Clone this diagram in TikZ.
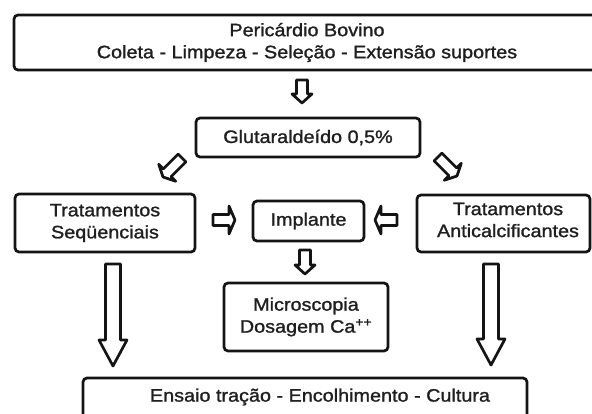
\documentclass[tikz,border=0pt]{standalone}
\usepackage{fontspec}
\setmainfont{Liberation Sans}[FakeStretch=1.1,FakeBold=1.3]
\usetikzlibrary{calc}
\newcommand\mainfs{\fontsize{18}{22}\selectfont}
\newcommand\blockarrow[5]{%
  \path ($(#2)!#5!(#1)$) coordinate (bb);
  \draw[barr] ($(#1)!#3!90:(#2)$) -- ($(bb)!#3!90:(#2)$) -- ($(bb)!#4!90:(#2)$) -- (#2)
    -- ($(bb)!#4!-90:(#2)$) -- ($(bb)!#3!-90:(#2)$) -- ($(#1)!#3!-90:(#2)$) -- cycle;}
\begin{document}
\begin{tikzpicture}[x=1pt,y=-1pt,
  box/.style={draw=black!92, line width=2.7pt, rounded corners=4pt, inner sep=0pt, align=center, font=\mainfs, text=black!88},
  lbl/.style={inner sep=0pt, align=center, font=\mainfs, text=black!88},
  barr/.style={draw=black!92, line width=2.7pt, line join=round, fill=white}]
\useasboundingbox[fill=white] (0,0) rectangle (592,414);
% boxes
\node[box, minimum width=586pt, minimum height=55pt] (top) at (307,42.5) {Pericárdio Bovino\\Coleta - Limpeza - Seleção - Extensão suportes};
\node[box, minimum width=224pt, minimum height=39pt] (glut) at (308,137.5) {Glutaraldeído 0,5\%};
\node[box, minimum width=180pt, minimum height=58pt] (seq) at (105,223) {Tratamentos\\Seqüenciais};
\node[box, minimum width=111pt, minimum height=40pt] (imp) at (308.5,221) {Implante};
\node[box, minimum width=173pt, minimum height=57pt] (anti) at (503.5,223.5) {};
\node[lbl] (antit) at (508,220) {Tratamentos\\Anticalcificantes};
\node[box, minimum width=164pt, minimum height=68pt] (mic) at (306,317) {Microscopia\\Dosagem Ca\textsuperscript{++}};
\node[box, minimum width=444pt, minimum height=60pt] (ens) at (305,408) {};
\node[lbl] (enst) at (320,397) {Ensaio tração - Encolhimento - Cultura};
% arrow end points
\coordinate (a1s) at (302,80);  \coordinate (a1e) at (302,103);
\coordinate (a2s) at (182,158); \coordinate (a2e) at (163,177);
\coordinate (a3s) at (438,157); \coordinate (a3e) at (457,176);
\coordinate (a4s) at (213,220); \coordinate (a4e) at (235,220);
\coordinate (a5s) at (397,220); \coordinate (a5e) at (375,220);
\coordinate (a6s) at (305,250); \coordinate (a6e) at (305,274);
\coordinate (a7s) at (113,264); \coordinate (a7e) at (113,366);
\coordinate (a8s) at (491,264); \coordinate (a8e) at (491,365);
% block arrows
\blockarrow{a1s}{a1e}{5.5pt}{10pt}{9pt}
\blockarrow{a2s}{a2e}{5.5pt}{12pt}{6pt}
\blockarrow{a3s}{a3e}{5.5pt}{12pt}{6pt}
\blockarrow{a4s}{a4e}{5.5pt}{14pt}{6pt}
\blockarrow{a5s}{a5e}{5.5pt}{14pt}{6pt}
\blockarrow{a6s}{a6e}{5.5pt}{10pt}{9pt}
\blockarrow{a7s}{a7e}{7.5pt}{14pt}{26pt}
\blockarrow{a8s}{a8e}{7.5pt}{14pt}{26pt}
\end{tikzpicture}
\end{document}
